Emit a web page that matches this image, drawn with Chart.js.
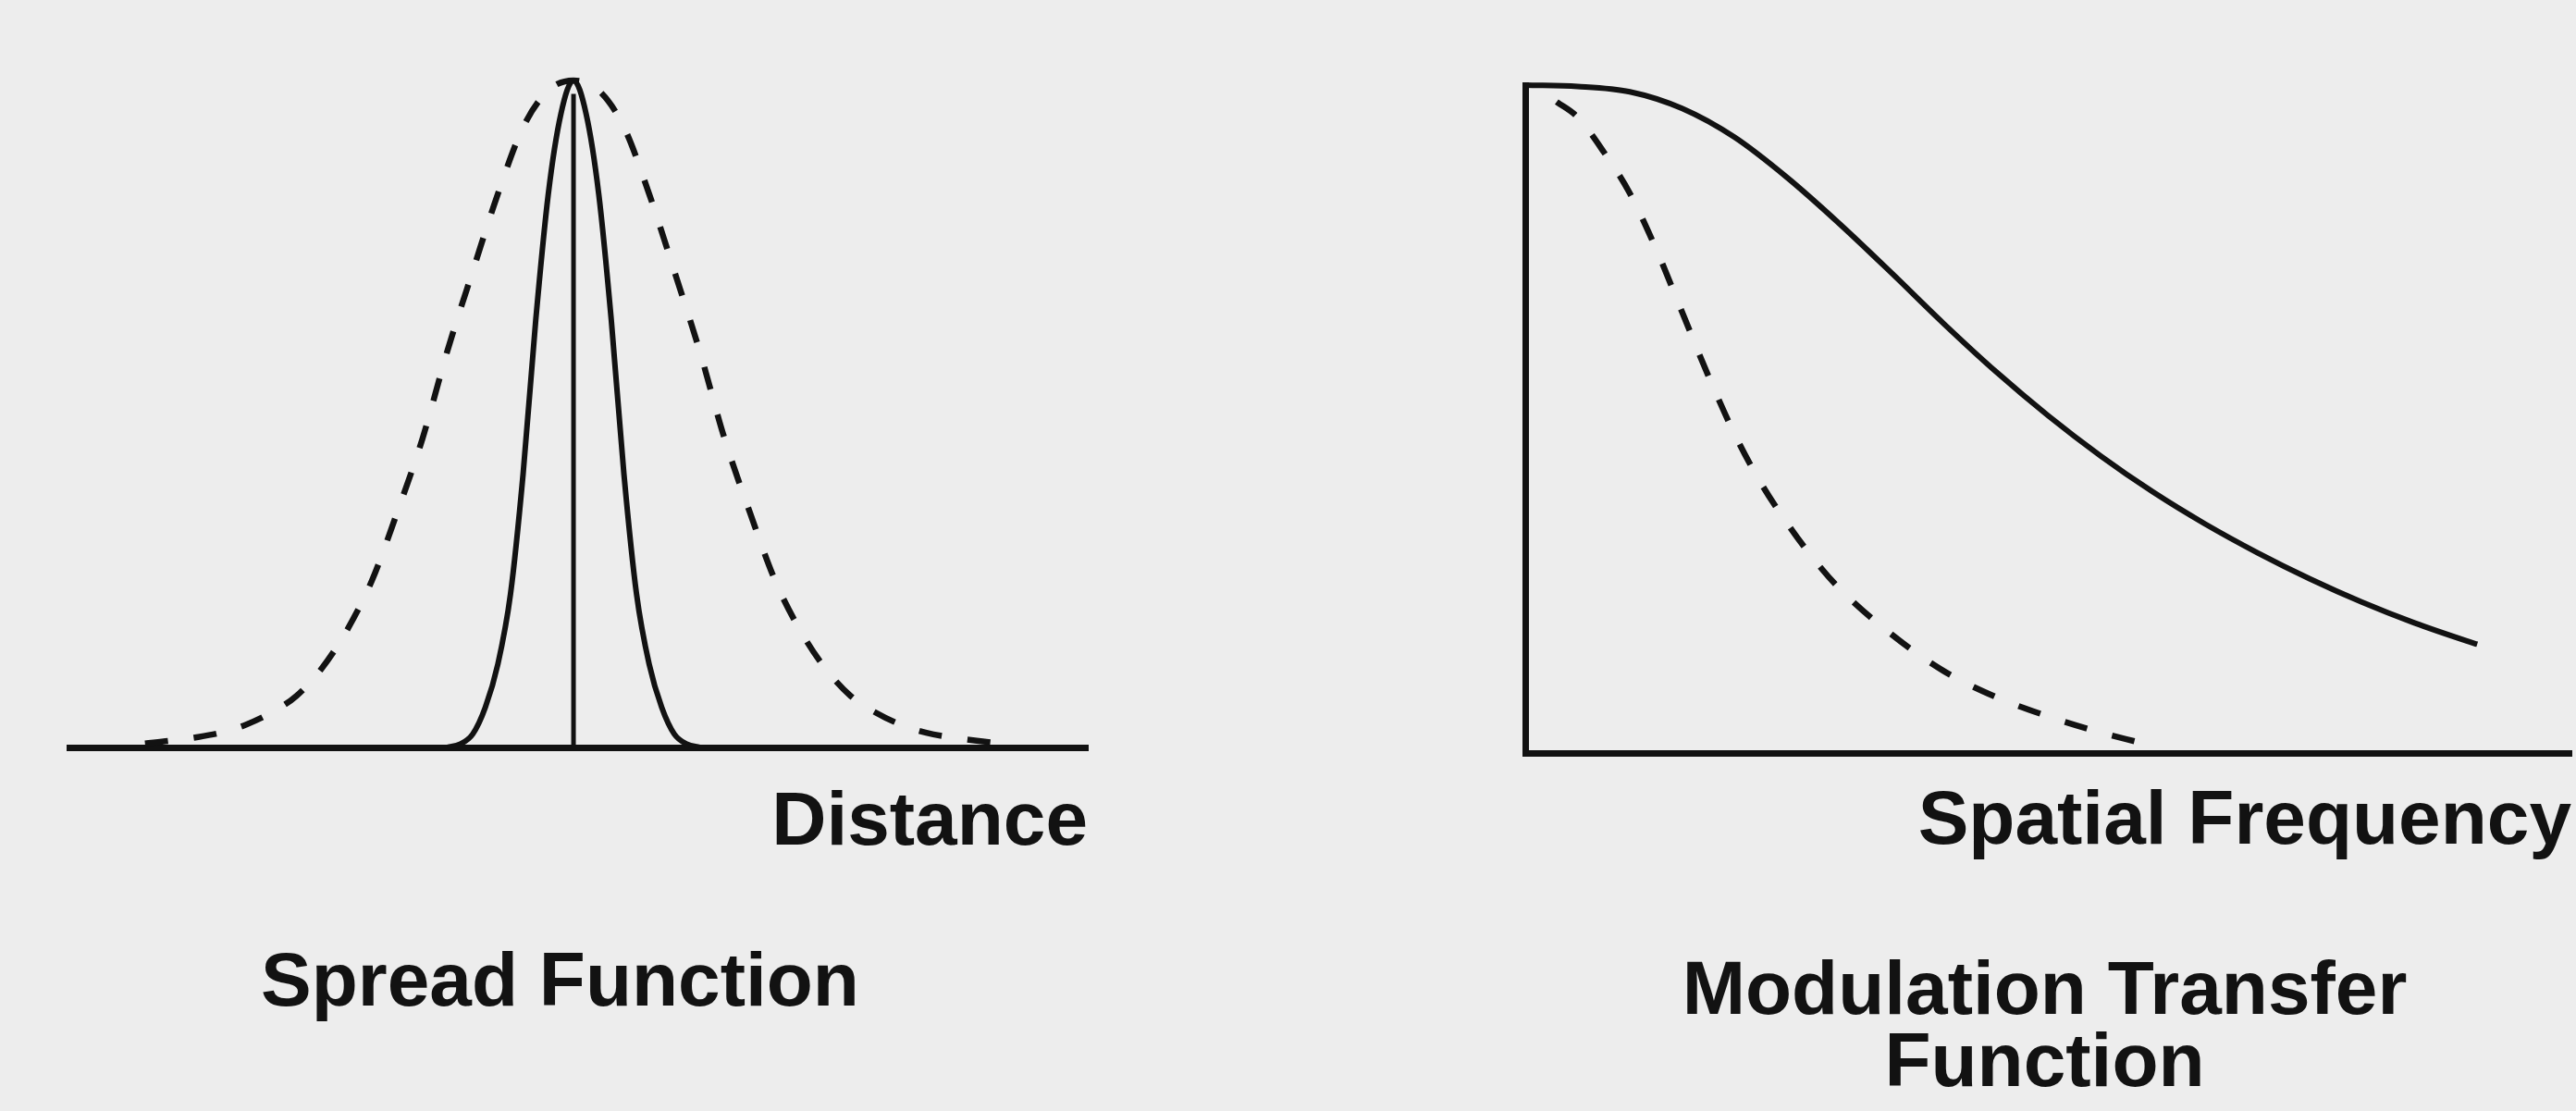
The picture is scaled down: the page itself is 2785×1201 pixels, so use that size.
<!DOCTYPE html>
<html>
<head>
<meta charset="utf-8">
<title>Spread Function and Modulation Transfer Function</title>
<script src="https://cdn.jsdelivr.net/npm/chart.js@4.4.1/dist/chart.umd.min.js"></script>
<style>
  html, body { margin: 0; padding: 0; background: #ededed; }
  body { width: 2785px; height: 1201px; position: relative; overflow: hidden; }
  canvas { position: absolute; top: 0; }
  #spread { left: 0; }
  #mtf { left: 1392px; }
</style>
</head>
<body>
<canvas id="spread" width="1250" height="1201"></canvas>
<canvas id="mtf" width="1393" height="1201"></canvas>
<script>
// ---- Spread functions (relative intensity vs. distance from centre) ----
const wideX = [-8.5, -8, -7.5, -7, -6.5, -6, -5.5, -5, -4.5, -4, -3.5, -3, -2.5, -2, -1.5, -1, -0.5,
               0, 0.5, 1, 1.5, 2, 2.5, 3, 3.5, 4, 4.5, 5, 5.5, 6, 6.5, 7, 7.5, 8, 8.5];
const wideY = [0.006, 0.01, 0.015, 0.022, 0.034, 0.052, 0.077, 0.118, 0.175, 0.25, 0.352, 0.462, 0.595, 0.714, 0.83, 0.93, 0.985,
               1, 0.985, 0.93, 0.83, 0.714, 0.595, 0.462, 0.352, 0.25, 0.175, 0.118, 0.077, 0.052, 0.034, 0.022, 0.015, 0.01, 0.006];

const narrowX = [-2.5, -2.25, -2, -1.75, -1.5, -1.25, -1, -0.75, -0.5, -0.25,
                 0, 0.25, 0.5, 0.75, 1, 1.25, 1.5, 1.75, 2, 2.25, 2.5];
const narrowY = [0, 0.005, 0.02, 0.06, 0.125, 0.23, 0.41, 0.64, 0.83, 0.95,
                 1, 0.95, 0.83, 0.64, 0.41, 0.23, 0.125, 0.06, 0.02, 0.005, 0];

// ideal point source: a single line at the centre
const impulseX = [0, 0];
const impulseY = [0, 0.98];

// ---- Modulation transfer functions (modulation vs. spatial frequency) ----
const mtfSharpFreq = [0, 0.5, 1, 1.5, 2, 2.5, 3, 3.5, 4, 4.5, 5, 5.5, 6, 6.5, 7, 7.5, 8, 8.5, 9, 9.1];
const mtfSharp     = [1, 0.998, 0.99, 0.965, 0.922, 0.862, 0.793, 0.719, 0.643, 0.571, 0.505, 0.445, 0.391, 0.343, 0.3, 0.261, 0.226, 0.195, 0.168, 0.163];

const mtfBlurFreq = [0.3, 0.5, 0.75, 1, 1.25, 1.5, 1.75, 2, 2.25, 2.5, 2.75, 3, 3.5, 4, 4.5, 5, 5.5, 5.87];
const mtfBlur     = [0.975, 0.952, 0.9, 0.838, 0.755, 0.66, 0.565, 0.478, 0.405, 0.345, 0.292, 0.247, 0.178, 0.123, 0.084, 0.055, 0.031, 0.016];

// ---- Text ----
const spreadAxisTitle = 'Distance';
const spreadCaption = 'Spread Function';
const mtfAxisTitle = 'Spatial Frequency';
const mtfCaption = ['Modulation Transfer', 'Function'];

const INK = '#121212';
const FONT = { family: "'Liberation Sans', Arial, Helvetica, sans-serif", size: 82, weight: 'bold', lineHeight: 1 };

function toPoints(xs, ys) {
  return xs.map((x, i) => ({ x: x, y: ys[i] }));
}

const DASH = [25, 28];

const commonOptions = {
  responsive: false,
  animation: false,
  devicePixelRatio: 1,
  events: [],
  elements: {
    point: { radius: 0 },
    line: { borderColor: INK, cubicInterpolationMode: 'monotone', fill: false }
  }
};

// Left: spread functions
new Chart(document.getElementById('spread'), {
  type: 'line',
  data: {
    datasets: [
      { data: toPoints(wideX, wideY), borderDash: DASH, borderWidth: 6.5, clip: false },
      { data: toPoints(narrowX, narrowY), borderWidth: 6, clip: false },
      { data: toPoints(impulseX, impulseY), borderWidth: 5, cubicInterpolationMode: 'default', tension: 0, clip: false }
    ]
  },
  options: Object.assign({}, commonOptions, {
    layout: { padding: { left: 35, right: 74, top: 87, bottom: 96 } },
    plugins: {
      legend: { display: false },
      tooltip: { enabled: false },
      title: { display: true, position: 'bottom', text: spreadCaption, color: INK, font: FONT,
               padding: { top: 92, bottom: 0 } }
    },
    scales: {
      x: {
        type: 'linear', min: -10, max: 10.2,
        grid: { display: false }, ticks: { display: false },
        border: { display: true, color: INK, width: 7 },
        title: { display: true, text: spreadAxisTitle, align: 'end', color: INK, font: FONT,
                 padding: { top: 33, bottom: 0 } }
      },
      y: {
        type: 'linear', min: 0, max: 1,
        grid: { display: false }, ticks: { display: false },
        border: { display: false },
        afterFit(scale) { scale.width = 40; }
      }
    }
  })
});

// Right: modulation transfer functions
new Chart(document.getElementById('mtf'), {
  type: 'line',
  data: {
    datasets: [
      { data: toPoints(mtfSharpFreq, mtfSharp), borderWidth: 6, clip: false },
      { data: toPoints(mtfBlurFreq, mtfBlur), borderDash: DASH, borderWidth: 6.5, clip: false }
    ]
  },
  options: Object.assign({}, commonOptions, {
    layout: { padding: { left: 249, right: 5, top: 92, bottom: 11 } },
    plugins: {
      legend: { display: false },
      tooltip: { enabled: false },
      title: { display: true, position: 'bottom', text: mtfCaption, color: INK,
               font: Object.assign({}, FONT, { lineHeight: 0.95 }),
               padding: { top: 104, bottom: 0 } }
    },
    scales: {
      x: {
        type: 'linear', min: 0, max: 10,
        grid: { display: false }, ticks: { display: false },
        border: { display: true, color: INK, width: 7 },
        title: { display: true, text: mtfAxisTitle, align: 'end', color: INK, font: FONT,
                 padding: { top: 26, bottom: 0 } }
      },
      y: {
        type: 'linear', min: 0, max: 1,
        grid: { display: false }, ticks: { display: false },
        border: { display: true, color: INK, width: 7 }
      }
    }
  })
});
</script>
</body>
</html>
